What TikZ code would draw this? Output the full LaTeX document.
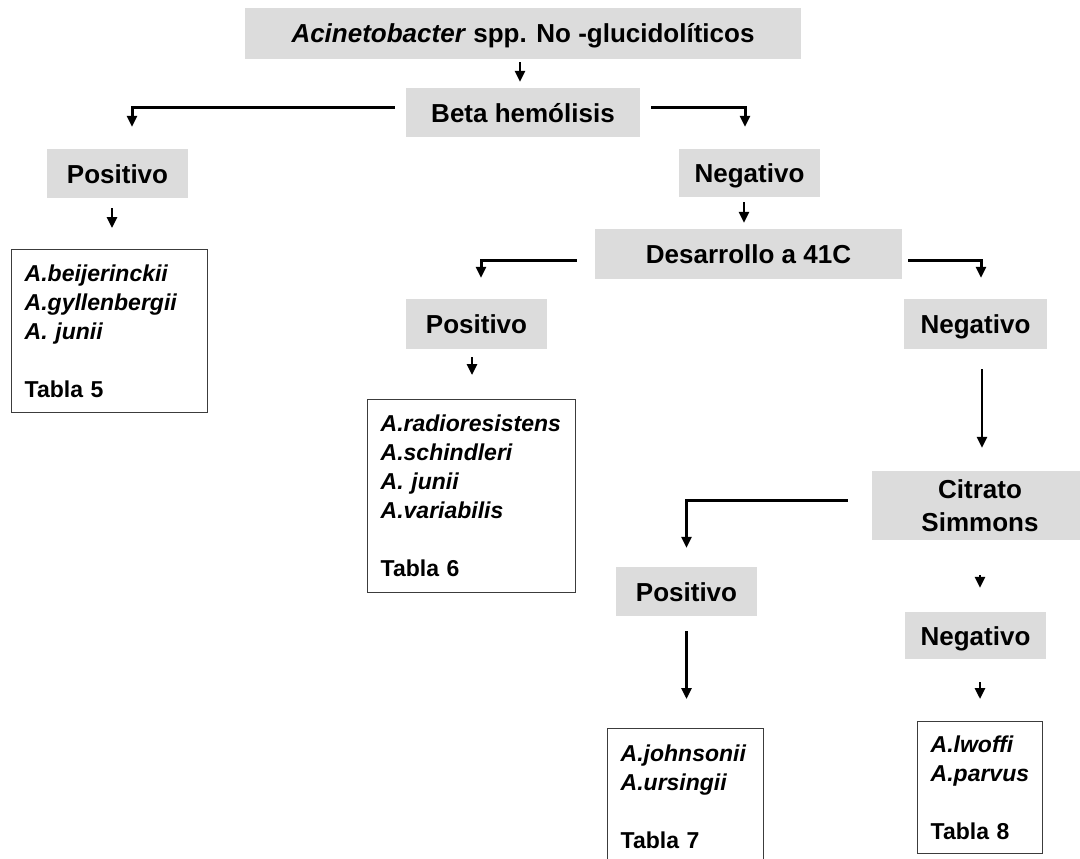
\documentclass[tikz,border=0pt]{standalone}
\usepackage{fontspec}
\setmainfont{Liberation Sans}
\usetikzlibrary{arrows.meta}
\definecolor{boxgray}{RGB}{220,220,220}
\definecolor{framegray}{RGB}{60,60,60}
\tikzset{
	test/.style={fill=boxgray, inner sep=0pt, align=center, font=\fontsize{26}{29}\selectfont\bfseries},
	oneline/.style={test, text height=19pt, text depth=0pt},
	result/.style={draw=framegray, line width=1.4pt, anchor=north west, inner xsep=13pt, inner ysep=0pt, align=left, font=\fontsize{23}{29}\selectfont\bfseries},
	arr/.style={line width=2.6pt, -{Triangle[width=10pt,length=11pt]}},
	branch/.style={line width=3pt, -{Triangle[width=10pt,length=11pt]}},
}
\begin{document}
\begin{tikzpicture}[x=1pt, y=-1pt]
		\useasboundingbox[fill=white] (0,0) rectangle (1080,859);
		
		\node[oneline, minimum width=556pt, minimum height=51pt] (acin) at (523,33.5) {\textit{Acinetobacter} spp. No -glucidolíticos};
		\node[oneline, minimum width=234pt, minimum height=49pt] (beta) at (523,112.5) {Beta hemólisis};
		\node[oneline, minimum width=141pt, minimum height=49pt] (posA) at (117.5,173.5) {Positivo};
		\node[oneline, minimum width=141pt, minimum height=48pt] (negA) at (749.5,173) {Negativo};
		\node[oneline, minimum width=307pt, minimum height=50pt] (desa) at (748.5,254) {Desarrollo a 41C};
		\node[oneline, minimum width=141pt, minimum height=50pt] (posB) at (476.5,324) {Positivo};
		\node[oneline, minimum width=143pt, minimum height=50pt] (negB) at (975.5,324) {Negativo};
		\node[test, minimum width=216pt, minimum height=69pt] (citr) at (980,505.5) {Citrato\\[4pt] Simmons};
		\node[oneline, minimum width=141pt, minimum height=49pt] (posC) at (686.5,591.5) {Positivo};
		\node[oneline, minimum width=141pt, minimum height=47pt] (negC) at (975.5,635.5) {Negativo};
		
		\node[result, text width=170pt, minimum height=163pt] (boxA) at (11,249) {\textit{A.beijerinckii}\\ \textit{A.gyllenbergii}\\ \textit{A. junii}\\[29pt] Tabla 5};
		\node[result, text width=182pt, minimum height=193pt] (boxB) at (367,399) {\textit{A.radioresistens}\\ \textit{A.schindleri}\\ \textit{A. junii}\\ \textit{A.variabilis}\\[29pt] Tabla 6};
		\node[result, text width=130pt, minimum height=136pt] (boxC) at (607,728) {\textit{A.johnsonii}\\ \textit{A.ursingii}\\[29pt] Tabla 7};
		\node[result, text width=99pt, minimum height=132pt] (boxD) at (917,721) {\textit{A.lwoffi}\\ \textit{A.parvus}\\[29pt] Tabla 8};
		
		\draw[arr, shorten <=3pt, shorten >=6pt] ([xshift=-3pt]acin.south) -- ([xshift=-3pt]beta.north);
		\draw[branch, shorten >=22pt] ([xshift=-11pt, yshift=4.5pt]beta.west) -| ([xshift=14.5pt]posA.north);
		\draw[branch, shorten >=22pt] ([xshift=11pt, yshift=4.5pt]beta.east) -| ([xshift=-4.5pt]negA.north);
		\draw[arr, shorten <=10pt, shorten >=21pt] ([xshift=-5.5pt]posA.south) -- ([xshift=-5.5pt]posA.south |- boxA.north);
		\draw[arr, shorten <=5pt, shorten >=6pt] ([xshift=-5.5pt]negA.south) -- ([xshift=-5.5pt]negA.south |- desa.north);
		
		\draw[branch, shorten >=21pt] ([xshift=-18pt, yshift=-6pt]desa.west) -| ([xshift=4.5pt]posB.north);
		\draw[branch, shorten >=21pt] ([xshift=6pt, yshift=-6pt]desa.east) -| ([xshift=5.5pt]negB.north);
		\draw[arr, shorten <=8pt, shorten >=24pt] ([xshift=-4.5pt]posB.south) -- ([xshift=-4.5pt]posB.south |- boxB.north);
		\draw[arr, shorten <=20pt, shorten >=23pt] ([xshift=6.5pt]negB.south) -- ([xshift=6.5pt]negB.south |- citr.north);
		
		\draw[branch, shorten >=19pt] ([xshift=-24pt, yshift=5.5pt]citr.west) -| (posC.north);
		\draw[arr, shorten <=35pt, shorten >=24pt] (citr.south) -- (citr.south |- negC.north);
		\draw[arr, shorten <=15pt, shorten >=29pt] (posC.south) -- (posC.south |- boxC.north);
		\draw[arr, shorten <=23pt, shorten >=22pt] ([xshift=4.5pt]negC.south) -- ([xshift=4.5pt]negC.south |- boxD.north);
		
	\end{tikzpicture}
\end{document}
